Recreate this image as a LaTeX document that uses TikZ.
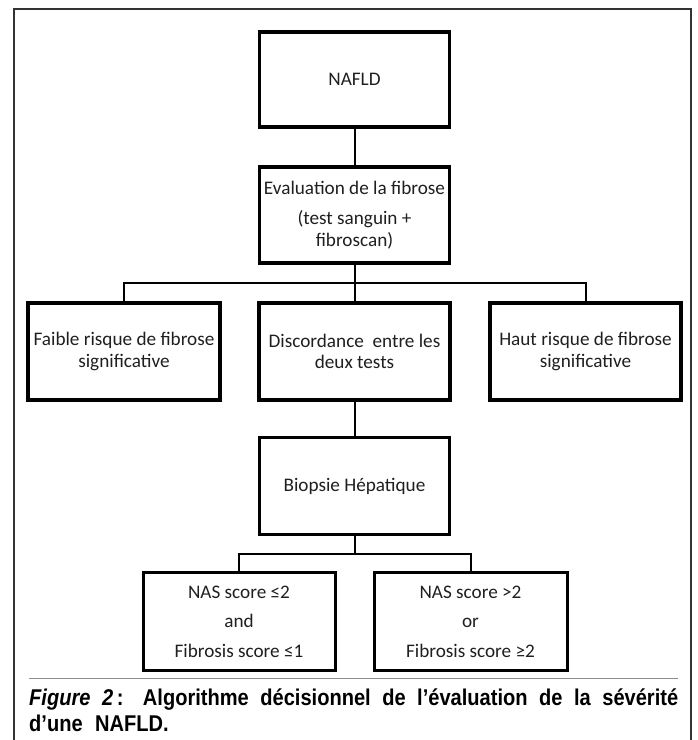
\documentclass[tikz,border=0pt]{standalone}
\usepackage{fontspec}
\setmainfont{Carlito}
\newfontfamily\capfont[FakeStretch=0.88]{Liberation Sans}
\begin{document}
\begin{tikzpicture}[x=1pt,y=-1pt,
  box/.style={draw=black, line width=3.6pt, minimum width=190pt, minimum height=95pt,
    inner sep=1pt, align=center, text=black!88, font=\fontsize{19.2}{21.5}\selectfont},
  sbox/.style={box, line width=3pt, font=\fontsize{19.2}{29.7}\selectfont},
  link/.style={draw=black, line width=2pt},
  frame/.style={draw=black!80, line width=1.3pt},
  rule/.style={draw=black!45, line width=1.2pt},
  caption/.style={anchor=base west, inner sep=0pt, text=black,
    font=\capfont\bfseries\fontsize{22.8}{25}\selectfont}]
\useasboundingbox (0,0) rectangle (698,740);
\draw[frame] (14,742) -- (14,9) -- (691,9) -- (691,742);

\node[box] (nafld) at (354.5,79.2) {NAFLD};
\node[box, minimum height=96pt] (eval) at (354.5,215) {Evaluation de la fibrose\\[8.5pt](test sanguin +\\fibroscan)};
\node[box, minimum width=192pt, minimum height=97pt] (low) at (124,351.3) {Faible risque de fibrose\\significative};
\node[box, minimum width=191pt, minimum height=97pt] (disc) at (354.5,351.3) {Discordance~ entre les\\deux tests};
\node[box, minimum width=191pt, minimum height=97pt] (high) at (585.5,351.3) {Haut risque de fibrose\\significative};
\node[box, minimum height=97pt] (biop) at (354.5,486) {Biopsie Hépatique};
\node[sbox, minimum width=192pt, minimum height=98pt] (lowsc) at (239,621.7) {NAS score ≤2\\and\\Fibrosis score ≤1};
\node[sbox, minimum width=193pt, minimum height=98pt] (highsc) at (470.5,621.7) {NAS score >2\\or\\Fibrosis score ≥2};

\coordinate (bus1) at (354.5,283.3);
\coordinate (bus2) at (354.5,554);

\draw[link] (nafld.south) -- (eval.north);
\draw[link] (eval.south) -- (disc.north);
\draw[link] (low.north) |- (bus1) -| (high.north);
\draw[link] (disc.south) -- (biop.north);
\draw[link] (biop.south) -- (bus2);
\draw[link] (lowsc.north) |- (bus2) -| (highsc.north);

\draw[rule] (29,678.3) -- (678,678.3);
\node[caption] (cap1) at (29,705) {\makebox[649pt][s]{\textit{Figure 2}\,: Algorithme décisionnel de l’évaluation de la sévérité}};
\node[caption] (cap2) at (29,731) {d’une\hspace{0.55em}NAFLD.};
\end{tikzpicture}
\end{document}
